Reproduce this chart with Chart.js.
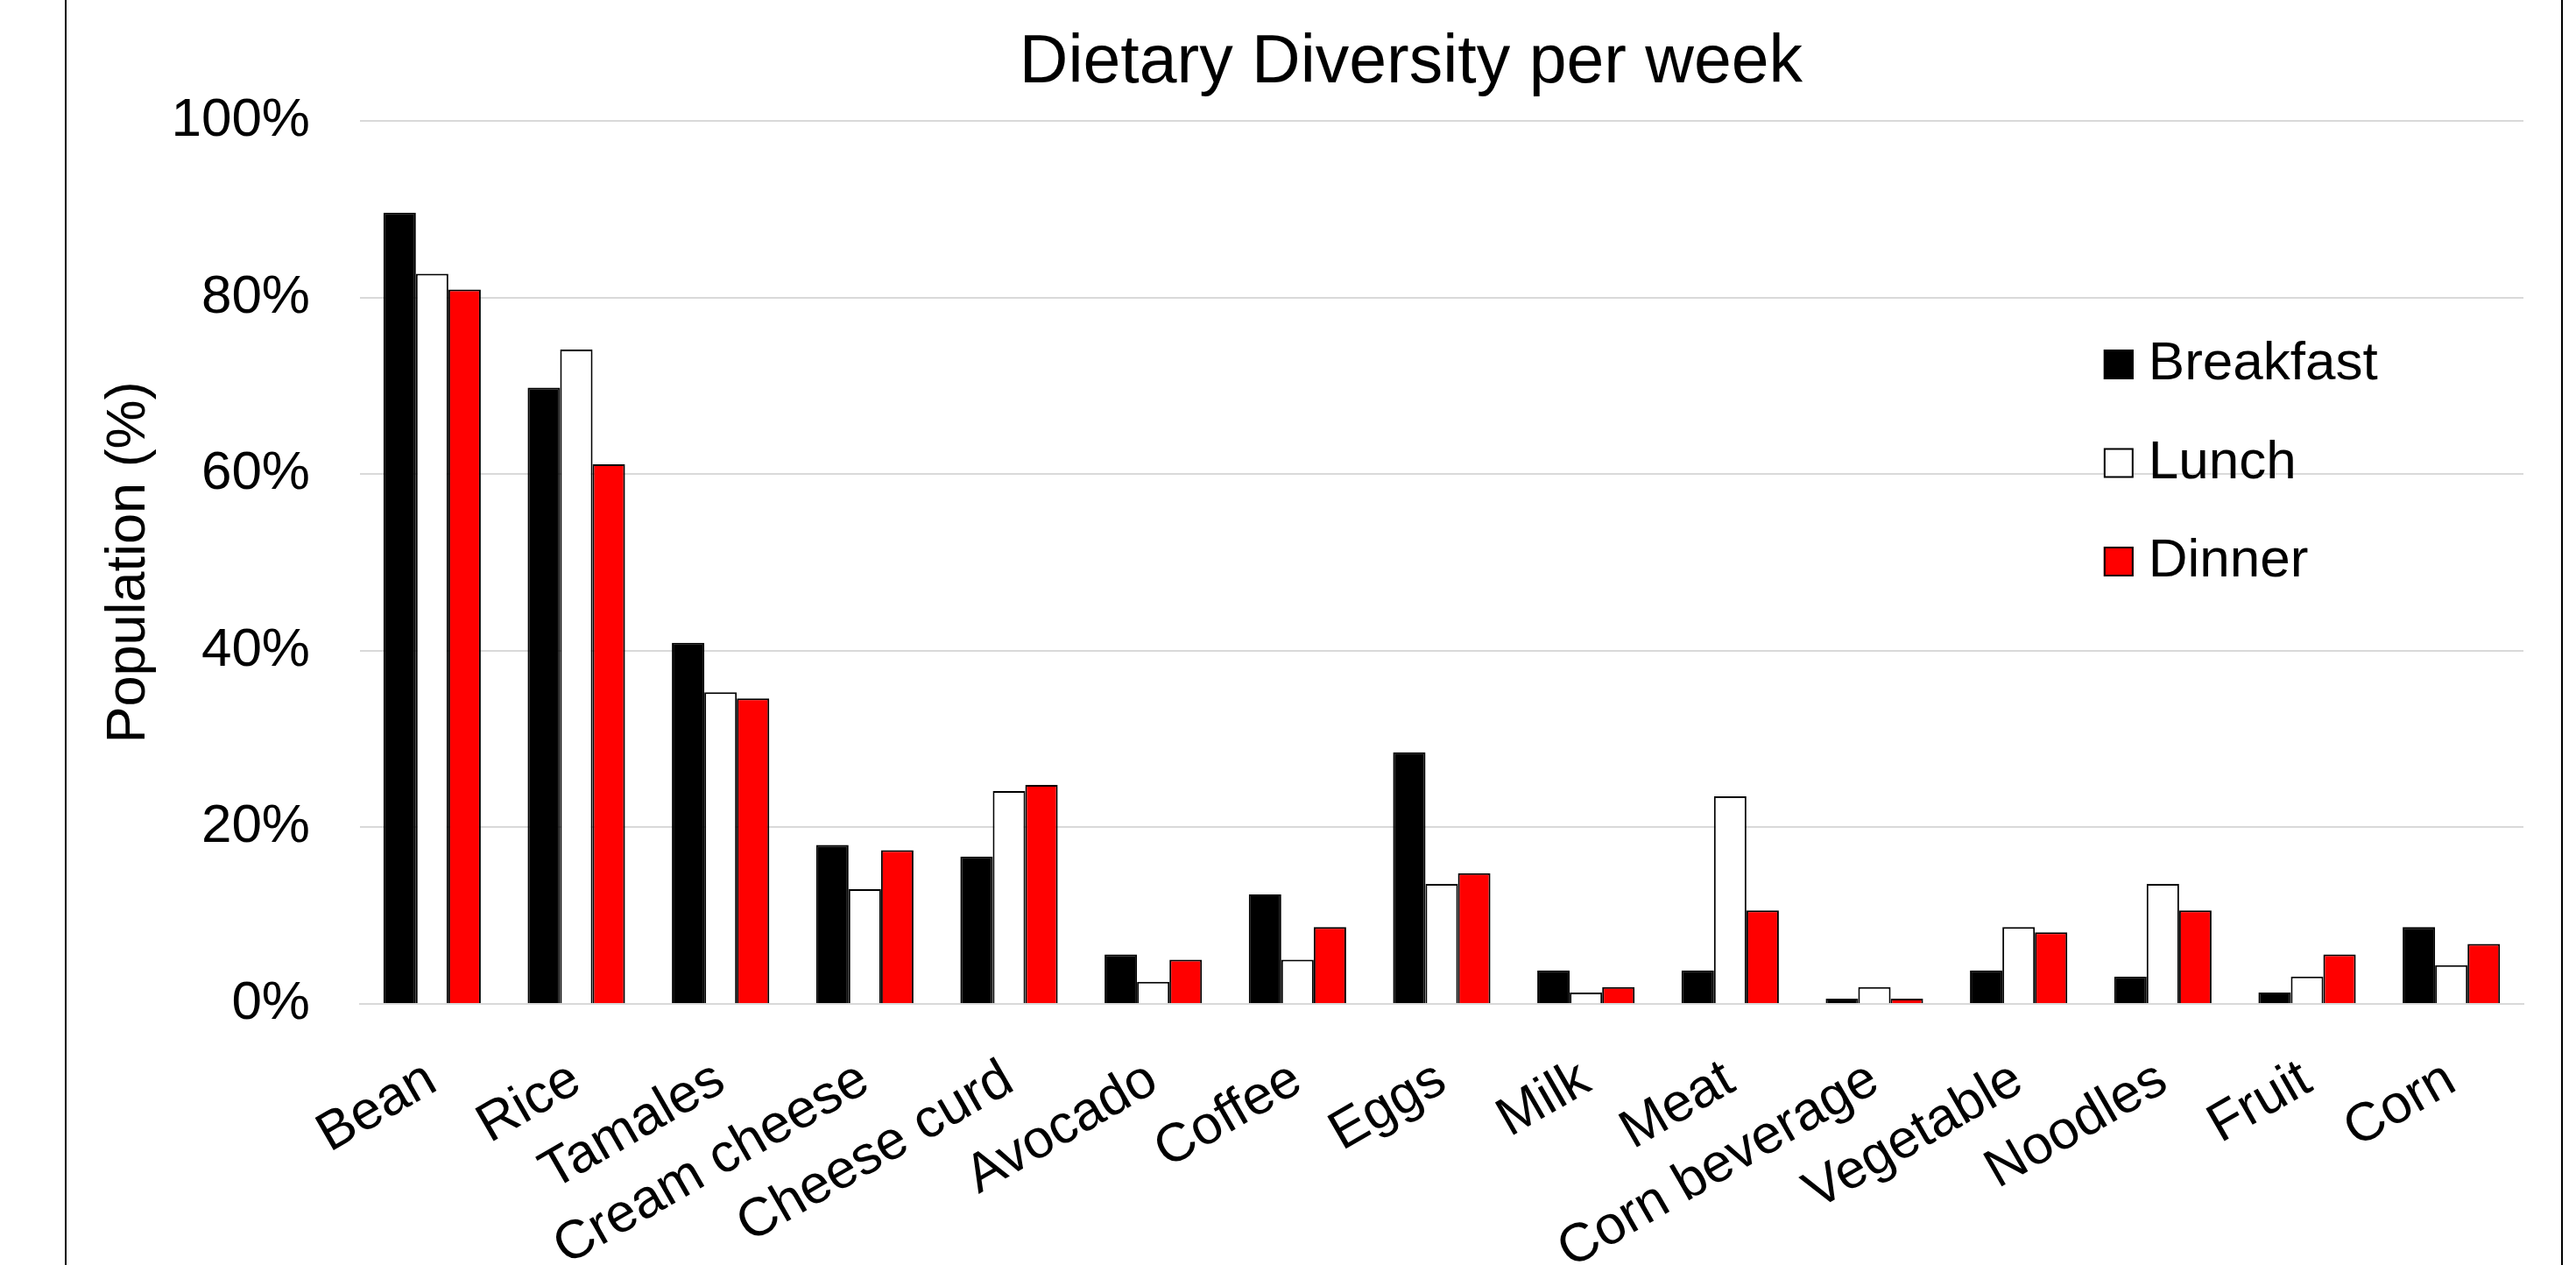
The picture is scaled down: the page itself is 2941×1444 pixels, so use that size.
<!DOCTYPE html>
<html>
<head>
<meta charset="utf-8">
<title>Dietary Diversity per week</title>
<script src="https://cdn.jsdelivr.net/npm/chart.js@4/dist/chart.umd.min.js"></script>
<style>
  html, body { margin: 0; padding: 0; background: #ffffff; }
  #wrap { position: relative; width: 2941px; height: 1444px; }
  #frame {
    position: absolute; left: 74px; top: 0; width: 2848px; height: 1444px;
    border-left: 2px solid #000; border-right: 2px solid #000;
  }
  #c { position: absolute; left: 0; top: 0; }
</style>
</head>
<body>
<div id="wrap">
  <div id="frame"></div>
  <canvas id="c" width="2941" height="1444"></canvas>
</div>
<script>
// Food items surveyed
const categories = ['Bean', 'Rice', 'Tamales', 'Cream cheese', 'Cheese curd', 'Avocado', 'Coffee',
  'Eggs', 'Milk', 'Meat', 'Corn beverage', 'Vegetable', 'Noodles', 'Fruit', 'Corn'];

// Share of the population eating each item (%), per meal
const breakfast = [89.6, 69.8, 40.9, 18.0, 16.7, 5.6, 12.4, 28.5, 3.8, 3.8, 0.6, 3.8, 3.1, 1.3, 8.7];
const lunch     = [82.7, 74.1, 35.3, 13.0, 24.1, 2.5, 5.0, 13.6, 1.3, 23.5, 1.9, 8.7, 13.6, 3.1, 4.4];
const dinner    = [80.9, 61.1, 34.6, 17.4, 24.8, 5.0, 8.7, 14.8, 1.9, 10.6, 0.6, 8.1, 10.6, 5.6, 6.8];

const seriesNames = ['Breakfast', 'Lunch', 'Dinner'];

// Value axis ticks
const yTickValues = [0, 20, 40, 60, 80, 100];
const yTickLabels = ['0%', '20%', '40%', '60%', '80%', '100%'];

const FONT = "'Liberation Sans', Arial, Helvetica, sans-serif";

// Heading drawn above the plot area
const headingPlugin = {
  id: 'chartHeading',
  afterDraw(chart, args, opts) {
    const { ctx, chartArea: a } = chart;
    ctx.save();
    ctx.font = opts.size + 'px ' + FONT;
    ctx.fillStyle = '#000';
    ctx.textAlign = 'center';
    ctx.textBaseline = 'alphabetic';
    ctx.fillText(opts.text, a.left + (a.right - a.left) * opts.xFrac, a.top - opts.gap);
    ctx.restore();
  }
};

// Legend placed inside the plot area, one row per meal
const insideLegendPlugin = {
  id: 'insideLegend',
  afterDatasetsDraw(chart, args, opts) {
    const { ctx, chartArea: a } = chart;
    const x0 = a.left + (a.right - a.left) * opts.xFrac;
    ctx.save();
    ctx.font = opts.size + 'px ' + FONT;
    chart.data.datasets.forEach((ds, i) => {
      const cy = a.top + opts.firstRow + i * opts.rowGap;
      const b = opts.box;
      ctx.fillStyle = ds.backgroundColor;
      ctx.fillRect(x0, cy - b / 2, b, b);
      ctx.lineWidth = 2;
      ctx.strokeStyle = ds.borderColor;
      ctx.strokeRect(x0 + 1, cy - b / 2 + 1, b - 2, b - 2);
      ctx.fillStyle = '#000';
      ctx.textAlign = 'left';
      ctx.textBaseline = 'middle';
      ctx.fillText(ds.label, x0 + b + opts.gap, cy);
    });
    ctx.restore();
  }
};

new Chart(document.getElementById('c'), {
  type: 'bar',
  data: {
    labels: categories,
    datasets: [
      { label: seriesNames[0], data: breakfast, backgroundColor: '#000000', borderColor: '#000000', borderWidth: 2 },
      { label: seriesNames[1], data: lunch,     backgroundColor: '#FFFFFF', borderColor: '#000000', borderWidth: 2 },
      { label: seriesNames[2], data: dinner,    backgroundColor: '#FF0000', borderColor: '#000000', borderWidth: 2 }
    ]
  },
  options: {
    responsive: false,
    animation: false,
    devicePixelRatio: 1,
    layout: { padding: { left: 0, right: 60, top: 138, bottom: 0 } },
    datasets: { bar: { categoryPercentage: 0.675, barPercentage: 1.0 } },
    plugins: {
      legend: { display: false },
      title: { display: false },
      tooltip: { enabled: false },
      chartHeading: { text: 'Dietary Diversity per week', size: 77, xFrac: 0.4858, gap: 44 },
      insideLegend: { size: 62, xFrac: 0.806, firstRow: 278, rowGap: 112.5, box: 34, gap: 17 }
    },
    scales: {
      x: {
        grid: { display: false, drawTicks: false },
        border: { display: true, color: '#D9D9D9', width: 2 },
        ticks: {
          autoSkip: false, minRotation: 30, maxRotation: 30, padding: 50,
          color: '#000', font: { family: FONT, size: 62 }
        },
        afterFit(scale) { scale.height = 298; }
      },
      y: {
        min: 0, max: 100,
        afterBuildTicks(scale) { scale.ticks = yTickValues.map(v => ({ value: v })); },
        grid: { color: '#D9D9D9', lineWidth: 2, drawTicks: false },
        border: { display: false },
        ticks: {
          padding: 57, color: '#000', font: { family: FONT, size: 62 },
          callback: (v) => yTickLabels[yTickValues.indexOf(v)]
        },
        title: {
          display: true, text: 'Population (%)', color: '#000',
          font: { family: FONT, size: 63 }, padding: { top: 110, bottom: 0 }
        },
        afterFit(scale) { scale.width = 411; }
      }
    }
  },
  plugins: [headingPlugin, insideLegendPlugin]
});
</script>
</body>
</html>
